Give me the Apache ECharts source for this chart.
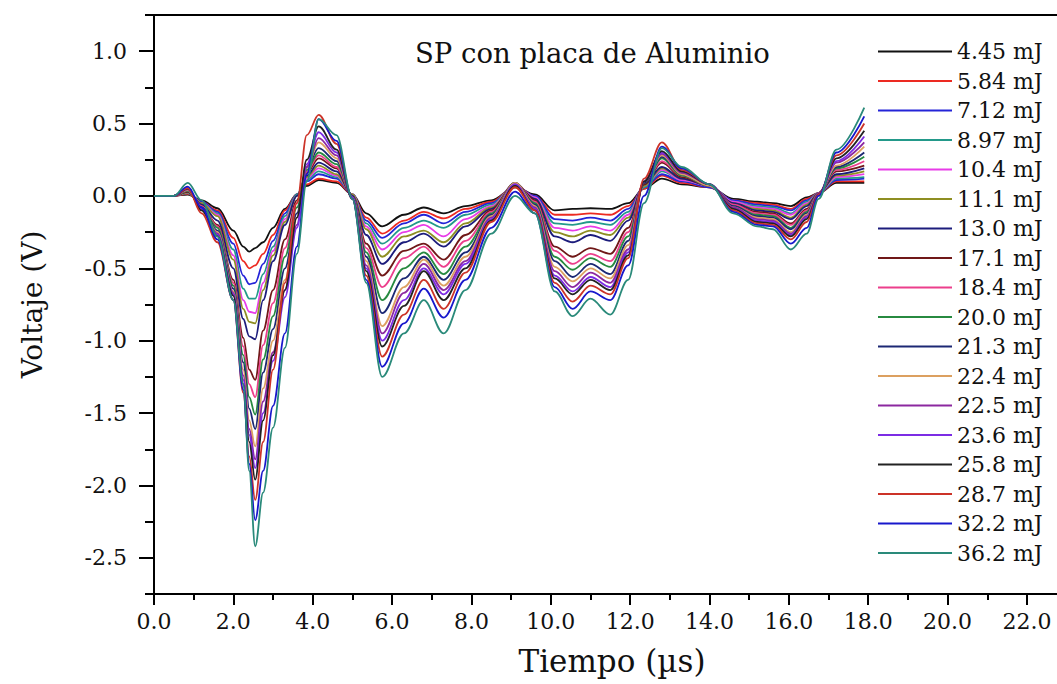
<!DOCTYPE html>
<html>
<head>
<meta charset="utf-8">
<script src="https://cdn.jsdelivr.net/npm/echarts@6/dist/echarts.min.js"></script>
<style>
html,body{margin:0;padding:0;background:#fff;overflow:hidden;width:1057px;height:684px;}
#c{width:1110px;height:684px;}
</style>
</head>
<body>
<div id="c"></div>
<script>
// time axis (µs) of the read-off points
const times = [0, 0.5, 0.85, 1.2, 1.6, 2.0, 2.25, 2.4, 2.55, 2.75, 3.0, 3.3, 3.6, 3.85, 4.15, 4.6, 5.0, 5.35, 5.75, 6.3, 6.8, 7.3, 7.85, 8.5, 9.1, 9.6, 10.1, 10.55, 11.0, 11.5, 11.95, 12.35, 12.8, 13.3, 14.0, 14.6, 15.2, 15.6, 16.05, 16.45, 16.75, 17.2, 17.9];

const names = ['4.45 mJ','5.84 mJ','7.12 mJ','8.97 mJ','10.4 mJ','11.1 mJ','13.0 mJ','17.1 mJ','18.4 mJ','20.0 mJ','21.3 mJ','22.4 mJ','22.5 mJ','23.6 mJ','25.8 mJ','28.7 mJ','32.2 mJ','36.2 mJ'];

const v445 = [0,0,0.01,-0.03,-0.085,-0.24,-0.35,-0.385,-0.36,-0.32,-0.22,-0.09,0.01,0.07,0.11,0.09,0.01,-0.12,-0.21,-0.13,-0.08,-0.12,-0.07,-0.03,0.06,0.01,-0.1,-0.09,-0.085,-0.09,-0.05,0.05,0.12,0.08,0.06,-0.02,-0.04,-0.05,-0.07,-0.01,0.02,0.09,0.09];
const v584 = [0,0,0.015,-0.04,-0.10,-0.29,-0.45,-0.50,-0.48,-0.40,-0.27,-0.1,0.01,0.08,0.12,0.1,0.01,-0.15,-0.26,-0.17,-0.11,-0.155,-0.09,-0.04,0.07,0.0,-0.13,-0.13,-0.12,-0.13,-0.07,0.05,0.14,0.09,0.06,-0.03,-0.05,-0.06,-0.09,-0.02,0.02,0.1,0.1];
const v712 = [0,0,0.02,-0.04,-0.11,-0.33,-0.55,-0.61,-0.60,-0.47,-0.31,-0.12,0.01,0.1,0.15,0.12,0.01,-0.17,-0.29,-0.19,-0.13,-0.19,-0.11,-0.05,0.07,0.0,-0.16,-0.17,-0.15,-0.17,-0.09,0.06,0.15,0.1,0.06,-0.03,-0.06,-0.07,-0.1,-0.03,0.02,0.11,0.12];
const v897 = [0,0,0.02,-0.05,-0.12,-0.37,-0.64,-0.71,-0.71,-0.54,-0.35,-0.14,0.01,0.11,0.17,0.13,0.01,-0.19,-0.33,-0.22,-0.17,-0.22,-0.13,-0.06,0.08,-0.01,-0.19,-0.2,-0.18,-0.2,-0.11,0.06,0.17,0.11,0.07,-0.04,-0.07,-0.08,-0.12,-0.04,0.02,0.12,0.13];
const v104 = [0,0,0.025,-0.05,-0.13,-0.41,-0.72,-0.80,-0.81,-0.6,-0.38,-0.16,0.0,0.12,0.19,0.14,0.01,-0.21,-0.37,-0.25,-0.2,-0.28,-0.16,-0.07,0.08,-0.01,-0.22,-0.24,-0.21,-0.24,-0.13,0.07,0.18,0.11,0.07,-0.04,-0.08,-0.09,-0.13,-0.05,0.02,0.13,0.15];
const v111 = [0,0,0.025,-0.05,-0.14,-0.44,-0.78,-0.87,-0.88,-0.65,-0.41,-0.18,0.0,0.13,0.21,0.15,0.01,-0.23,-0.42,-0.28,-0.24,-0.32,-0.19,-0.08,0.08,-0.02,-0.25,-0.28,-0.24,-0.27,-0.15,0.07,0.19,0.12,0.07,-0.05,-0.09,-0.1,-0.15,-0.06,0.02,0.14,0.17];
const v130 = [0,0,0.03,-0.06,-0.17,-0.5,-0.85,-0.97,-0.99,-0.72,-0.45,-0.2,0.0,0.14,0.23,0.17,0.0,-0.27,-0.47,-0.32,-0.26,-0.35,-0.21,-0.09,0.08,-0.02,-0.28,-0.32,-0.27,-0.31,-0.17,0.08,0.2,0.12,0.07,-0.05,-0.1,-0.11,-0.16,-0.07,0.02,0.15,0.19];
const v171 = [0,0,0.03,-0.07,-0.2,-0.58,-0.98,-1.2,-1.27,-0.93,-0.65,-0.3,-0.03,0.16,0.26,0.19,0,-0.33,-0.55,-0.38,-0.33,-0.44,-0.27,-0.1,0.09,-0.03,-0.35,-0.42,-0.36,-0.4,-0.22,0.08,0.23,0.13,0.07,-0.06,-0.11,-0.12,-0.19,-0.09,0.02,0.17,0.21];
const v184 = [0,0,0.035,-0.07,-0.21,-0.6,-1.04,-1.3,-1.39,-1.03,-0.74,-0.36,-0.05,0.17,0.28,0.2,0,-0.36,-0.63,-0.43,-0.35,-0.49,-0.31,-0.11,0.09,-0.04,-0.38,-0.47,-0.4,-0.45,-0.25,0.09,0.24,0.14,0.07,-0.06,-0.12,-0.13,-0.2,-0.1,0.02,0.18,0.24];
const v200 = [0,0,0.035,-0.08,-0.22,-0.62,-1.1,-1.39,-1.51,-1.13,-0.83,-0.42,-0.08,0.18,0.30,0.22,0,-0.39,-0.72,-0.5,-0.39,-0.54,-0.35,-0.12,0.09,-0.05,-0.42,-0.51,-0.43,-0.49,-0.28,0.09,0.26,0.14,0.07,-0.07,-0.13,-0.14,-0.22,-0.11,0.02,0.19,0.27];
const v213 = [0,0,0.04,-0.08,-0.24,-0.64,-1.15,-1.47,-1.61,-1.22,-0.92,-0.5,-0.12,0.2,0.33,0.24,0,-0.42,-0.81,-0.57,-0.42,-0.58,-0.39,-0.13,0.09,-0.06,-0.45,-0.56,-0.47,-0.54,-0.31,0.09,0.27,0.15,0.07,-0.07,-0.14,-0.15,-0.23,-0.12,0.02,0.2,0.3];
const v224 = [0,0,0.04,-0.09,-0.25,-0.66,-1.2,-1.55,-1.73,-1.33,-1.0,-0.58,-0.15,0.2,0.37,0.26,-0.01,-0.45,-0.9,-0.63,-0.44,-0.62,-0.42,-0.14,0.09,-0.07,-0.49,-0.59,-0.5,-0.57,-0.34,0.1,0.28,0.15,0.07,-0.08,-0.15,-0.16,-0.25,-0.13,0.02,0.21,0.34];
const v225 = [0,0,0.045,-0.09,-0.26,-0.67,-1.24,-1.61,-1.82,-1.42,-1.08,-0.65,-0.2,0.2,0.40,0.28,-0.01,-0.48,-0.95,-0.67,-0.47,-0.65,-0.45,-0.15,0.08,-0.08,-0.52,-0.63,-0.53,-0.6,-0.37,0.1,0.29,0.16,0.08,-0.08,-0.16,-0.17,-0.26,-0.14,0.02,0.23,0.37];
const v236 = [0,0,0.05,-0.09,-0.27,-0.68,-1.27,-1.65,-1.88,-1.5,-1.14,-0.7,-0.22,0.22,0.44,0.3,-0.01,-0.5,-1.0,-0.72,-0.5,-0.68,-0.47,-0.16,0.08,-0.09,-0.55,-0.66,-0.56,-0.63,-0.39,0.1,0.3,0.17,0.08,-0.09,-0.17,-0.18,-0.27,-0.15,0.01,0.24,0.41];
const v258 = [0,0,0.05,-0.1,-0.28,-0.69,-1.3,-1.7,-1.96,-1.55,-1.1,-0.65,-0.15,0.25,0.48,0.32,-0.02,-0.52,-1.04,-0.76,-0.52,-0.72,-0.5,-0.17,0.07,-0.1,-0.57,-0.68,-0.58,-0.65,-0.41,0.1,0.31,0.17,0.08,-0.09,-0.18,-0.19,-0.28,-0.16,0.01,0.26,0.45];
const v287 = [0,0,0.055,-0.12,-0.32,-0.72,-1.36,-1.8,-2.10,-1.7,-1.2,-0.6,-0.05,0.42,0.56,0.36,-0.02,-0.55,-1.11,-0.82,-0.58,-0.78,-0.53,-0.18,0.06,-0.1,-0.6,-0.73,-0.62,-0.68,-0.43,0.12,0.37,0.18,0.08,-0.1,-0.19,-0.2,-0.3,-0.18,0.01,0.28,0.5];
const v322 = [0,0,0.065,-0.08,-0.3,-0.72,-1.34,-1.85,-2.24,-1.9,-1.45,-0.95,-0.35,0.15,0.53,0.38,-0.02,-0.58,-1.18,-0.88,-0.64,-0.84,-0.58,-0.22,0.03,-0.12,-0.63,-0.78,-0.66,-0.72,-0.48,0.0,0.34,0.19,0.08,-0.11,-0.2,-0.21,-0.33,-0.22,0.0,0.3,0.55];
const v362 = [0,0,0.09,-0.03,-0.28,-0.72,-1.3,-1.9,-2.42,-2.05,-1.6,-1.05,-0.4,0.1,0.53,0.42,-0.02,-0.6,-1.25,-0.95,-0.72,-0.95,-0.65,-0.26,0.0,-0.12,-0.66,-0.83,-0.71,-0.82,-0.58,-0.05,0.33,0.2,0.08,-0.12,-0.21,-0.23,-0.37,-0.26,-0.02,0.32,0.61];

const values = [v445,v584,v712,v897,v104,v111,v130,v171,v184,v200,v213,v224,v225,v236,v258,v287,v322,v362];
const colors = ['#111111','#ec2a22','#2424d8','#23998a','#e83ce8','#8e8e22','#1c1c7c','#701818','#ec3f8c','#278a40','#1c2874','#dca060','#8c28a0','#7c2ce4','#222222','#cc3328','#1818cc','#2a8a7a'];

const xTicks = [0,2,4,6,8,10,12,14,16,18,20,22];
const yTicks = [-2.5,-2.0,-1.5,-1.0,-0.5,0.0,0.5,1.0];

const black = '#000';
const chart = echarts.init(document.getElementById('c'), null, {renderer: 'svg'});

const series = values.map((arr, i) => ({
  name: names[i],
  type: 'line',
  xAxisIndex: 0,
  yAxisIndex: 0,
  data: times.map((t, j) => [t, arr[j]]),
  showSymbol: false,
  symbol: 'none',
  smooth: 0.35,
  smoothMonotone: 'x',
  lineStyle: {width: 1.8, color: colors[i]},
  itemStyle: {color: colors[i]},
  z: 2 + i
}));

chart.setOption({
  animation: false,
  backgroundColor: '#fff',
  title: {
    text: 'SP con placa de Aluminio',
    left: 415, top: 39, padding: 0,
    textStyle: {fontFamily: 'DejaVu Serif', fontSize: 27.5, fontWeight: 'normal', color: '#111'}
  },
  legend: {
    orient: 'vertical',
    left: 878, top: 40.5,
    icon: 'rect',
    itemWidth: 74, itemHeight: 2, itemGap: 7.5,
    padding: 0,
    data: names,
    textStyle: {fontFamily: 'DejaVu Serif', fontSize: 22, lineHeight: 20, color: '#111'}
  },
  grid: [
    {left: 154, right: 3.7, top: 15, bottom: 90},
    {left: 154, right: 40, top: 51.19, bottom: 126.19}
  ],
  xAxis: [
    {
      gridIndex: 0, type: 'value', min: 0, max: 24, interval: 2, position: 'bottom',
      axisLine: {show: true, onZero: false, lineStyle: {color: black, width: 2}},
      axisTick: {show: true, inside: false, length: 11, lineStyle: {color: black, width: 2}},
      minorTick: {show: true, splitNumber: 2, length: 6, lineStyle: {color: black, width: 2}},
      splitLine: {show: false},
      axisLabel: {show: true, margin: 16, showMaxLabel: false, fontFamily: 'DejaVu Serif', fontSize: 22, color: '#111',
        formatter: v => xTicks.includes(v) ? v.toFixed(1) : ''}
    },
    {
      gridIndex: 0, type: 'value', min: 0, max: 24, position: 'top',
      axisLine: {show: true, onZero: false, lineStyle: {color: black, width: 2}},
      axisTick: {show: false}, axisLabel: {show: false}, splitLine: {show: false}
    },
    {
      gridIndex: 1, type: 'value', min: 0, max: 22, position: 'bottom',
      name: 'Tiempo (µs)', nameLocation: 'middle', nameGap: 88,
      nameTextStyle: {fontFamily: 'DejaVu Serif', fontSize: 31, color: '#111'},
      axisLine: {show: false}, axisTick: {show: false}, axisLabel: {show: false}, splitLine: {show: false}
    }
  ],
  yAxis: [
    {
      gridIndex: 0, type: 'value', min: -2.75, max: 1.25, interval: 0.25,
      axisLine: {show: true, onZero: false, lineStyle: {color: black, width: 2}},
      axisTick: {show: true, inside: false, length: 9, lineStyle: {color: black, width: 2}},
      axisLabel: {show: false}, splitLine: {show: false}
    },
    {
      gridIndex: 1, type: 'value', min: -2.5, max: 1.0, interval: 0.5,
      name: 'Voltaje (V)', nameLocation: 'middle', nameGap: 108,
      nameTextStyle: {fontFamily: 'DejaVu Serif', fontSize: 28, color: '#111'},
      axisLine: {show: false, onZero: false},
      axisTick: {show: true, inside: false, length: 15, lineStyle: {color: black, width: 2}},
      axisLabel: {show: true, margin: 27, fontFamily: 'DejaVu Serif', fontSize: 22, color: '#111',
        formatter: v => yTicks.some(t => Math.abs(t - v) < 1e-9) ? v.toFixed(1) : ''},
      splitLine: {show: false}
    }
  ],
  series: series
});
</script>
</body>
</html>
